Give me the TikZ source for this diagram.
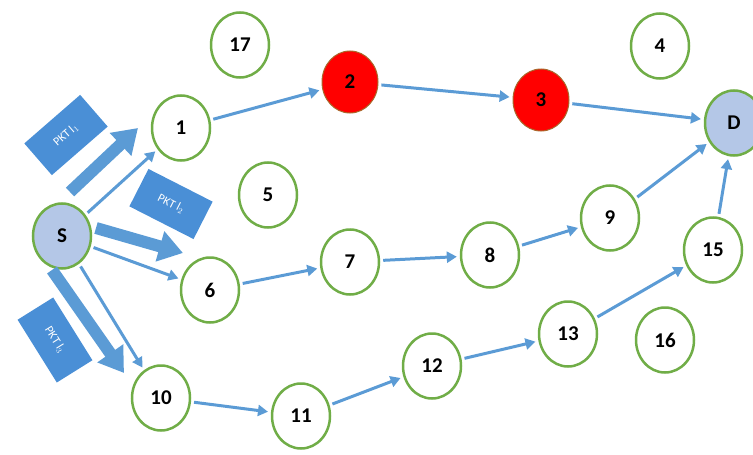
\documentclass[tikz,border=0pt]{standalone}
\usepackage{fontspec}
\setmainfont{Carlito}
\usetikzlibrary{arrows.meta,shapes.geometric}
\definecolor{ngreen}{HTML}{70AD47}
\definecolor{ablue}{HTML}{5B9BD5}
\definecolor{bblue}{HTML}{4A8FD6}
\definecolor{sfill}{HTML}{B4C7E7}
\tikzset{
  nd/.style={ellipse, draw=ngreen, line width=2.5pt, fill=white, minimum width=58pt, minimum height=65pt, inner sep=0pt, font=\fontsize{21}{21}\selectfont\bfseries},
  ep/.style={nd, fill=sfill},
  rd/.style={nd, fill=red, draw=ngreen!60!red, line width=1pt, minimum width=56pt, minimum height=62pt},
  arr/.style={draw=ablue, line width=3pt, -{Triangle[length=10pt,width=11pt]}, shorten <=3pt, shorten >=3pt},
  blk/.style={draw=ablue, line width=12pt, -{Triangle[length=24pt,width=30pt]}},
  pkt/.style={fill=bblue, text=white, minimum width=74pt, minimum height=42pt, inner sep=0pt, font=\fontsize{12}{12}\selectfont}
}
\begin{document}
\begin{tikzpicture}[x=1pt,y=-1pt]
\useasboundingbox (0,0) rectangle (753,455);
\node[ep] (S) at (62,236) {S};
\node[nd] (n1) at (181,128) {1};
\node[nd] (n17) at (240,45) {17};
\node[rd] (n2) at (350,82) {2};
\node[rd] (n3) at (541,100) {3};
\node[nd] (n4) at (660,46) {4};
\node[ep] (D) at (734,123) {D};
\node[nd] (n5) at (268,195) {5};
\node[nd] (n6) at (210,290) {6};
\node[nd] (n7) at (350,262) {7};
\node[nd] (n8) at (490,255) {8};
\node[nd] (n9) at (610,218) {9};
\node[nd] (n15) at (713,250) {15};
\node[nd] (n10) at (161,398) {10};
\node[nd] (n11) at (301,416) {11};
\node[nd] (n12) at (432,366) {12};
\node[nd] (n13) at (568,334) {13};
\node[nd] (n16) at (665,340) {16};

\draw[arr] (S) -- (n1);
\draw[arr] (S) -- (n6);
\draw[arr] (S) -- (n10);
\draw[arr] (n1) -- (n2);
\draw[arr] (n2) -- (n3);
\draw[arr] (n3) -- (D);
\draw[arr] (n6) -- (n7);
\draw[arr] (n7) -- (n8);
\draw[arr] (n8) -- (n9);
\draw[arr] (n9) -- (D);
\draw[arr] (n10) -- (n11);
\draw[arr] (n11) -- (n12);
\draw[arr] (n12) -- (n13);
\draw[arr] (n13) -- (n15);
\draw[arr] (n15) -- (D);

\coordinate (a1s) at (70,192);
\coordinate (a1e) at (138,128);
\coordinate (a2s) at (96,228);
\coordinate (a2e) at (183,253);
\coordinate (a3s) at (52,270);
\coordinate (a3e) at (124,373);
\draw[blk] (a1s) -- (a1e);
\draw[blk] (a2s) -- (a2e);
\draw[blk] (a3s) -- (a3e);

\node[pkt, rotate=41] (p1) at (66,135) {PKT l$_1$};
\node[pkt, rotate=-27, minimum width=72pt] (p2) at (171,204) {PKT l$_2$};
\node[pkt, rotate=-58] (p3) at (55,340) {PKT l$_3$};
\end{tikzpicture}
\end{document}
